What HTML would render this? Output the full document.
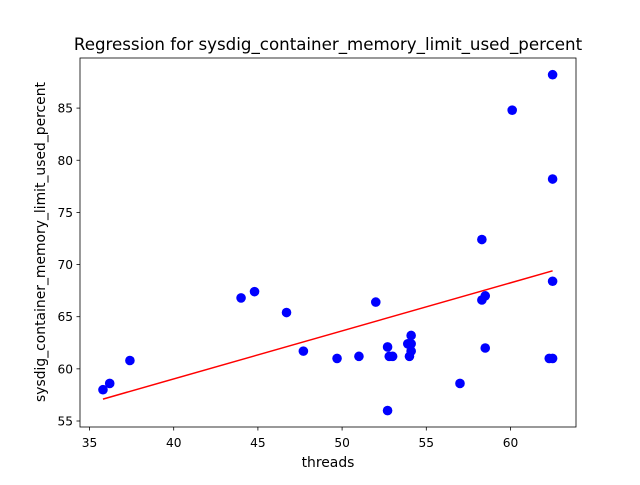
<!DOCTYPE html>
<html><head><meta charset="utf-8"><style>
body{margin:0;background:#fff;}
svg text{font-family:"DejaVu Sans","Liberation Sans",sans-serif;}
</style></head><body>
<svg id="chart" width="640" height="480" xmlns="http://www.w3.org/2000/svg">
<rect width="640" height="480" fill="#fff"/>
<text x="328" y="50" font-size="16.67" text-anchor="middle">Regression for sysdig_container_memory_limit_used_percent</text>
<g id="ticks"></g>
<g id="marks"></g>
<rect x="80" y="58" width="496" height="369" fill="none" stroke="#000" stroke-width="0.8"/>
<text x="328" y="467" font-size="13.9" text-anchor="middle">threads</text>
<text transform="translate(45,242) rotate(-90)" font-size="13.9" text-anchor="middle">sysdig_container_memory_limit_used_percent</text>
</svg>
<script>
const threads=[35.8,36.2,37.4,44.0,44.8,46.7,47.7,49.7,51.0,52.0,52.7,52.7,52.8,53.0,53.9,54.0,54.1,54.1,54.1,57.0,58.3,58.3,58.5,58.5,60.1,62.3,62.5,62.5,62.5,62.5];
const memPct=[58.0,58.6,60.8,66.8,67.4,65.4,61.7,61.0,61.2,66.4,56.0,62.1,61.2,61.2,62.4,61.2,61.7,62.4,63.2,58.6,72.4,66.6,67.0,62.0,84.8,61.0,61.0,68.4,78.2,88.2];
const xTicks=[35,40,45,50,55,60];
const yTicks=[55,60,65,70,75,80,85];
const fitLine=[[35.8,57.1],[62.5,69.4]];
const ns="http://www.w3.org/2000/svg";
const X=v=>89.5+(v-35)*16.84;
const Y=v=>421-(v-55)*10.43;
function mk(t,a,p){const e=document.createElementNS(ns,t);for(const k in a)e.setAttribute(k,a[k]);p.appendChild(e);return e;}
const tg=document.getElementById('ticks'),mg=document.getElementById('marks');
xTicks.forEach(v=>{
 const l=mk('line',{x1:X(v),x2:X(v),y1:427,y2:430.5,stroke:'#000','stroke-width':0.8},tg);
 
 
 const t=mk('text',{x:X(v),y:447,'font-size':12.2,'text-anchor':'middle'},tg);t.textContent=v;
 
 
});
yTicks.forEach(v=>{
 const l=mk('line',{x1:76.5,x2:80,y1:Y(v),y2:Y(v),stroke:'#000','stroke-width':0.8},tg);
 
 
 const t=mk('text',{x:73,y:Y(v)+4.5,'font-size':12.2,'text-anchor':'end'},tg);t.textContent=v;
 
 
});
threads.forEach((v,i)=>{
 const c=mk('circle',{cx:X(v),cy:Y(memPct[i]),r:4.8,fill:'#0000ff'},mg);
 
 
});
const ln=mk('line',{x1:X(fitLine[0][0]),y1:Y(fitLine[0][1]),x2:X(fitLine[1][0]),y2:Y(fitLine[1][1]),stroke:'#ff0000','stroke-width':1.5},mg);


</script>
</body></html>
